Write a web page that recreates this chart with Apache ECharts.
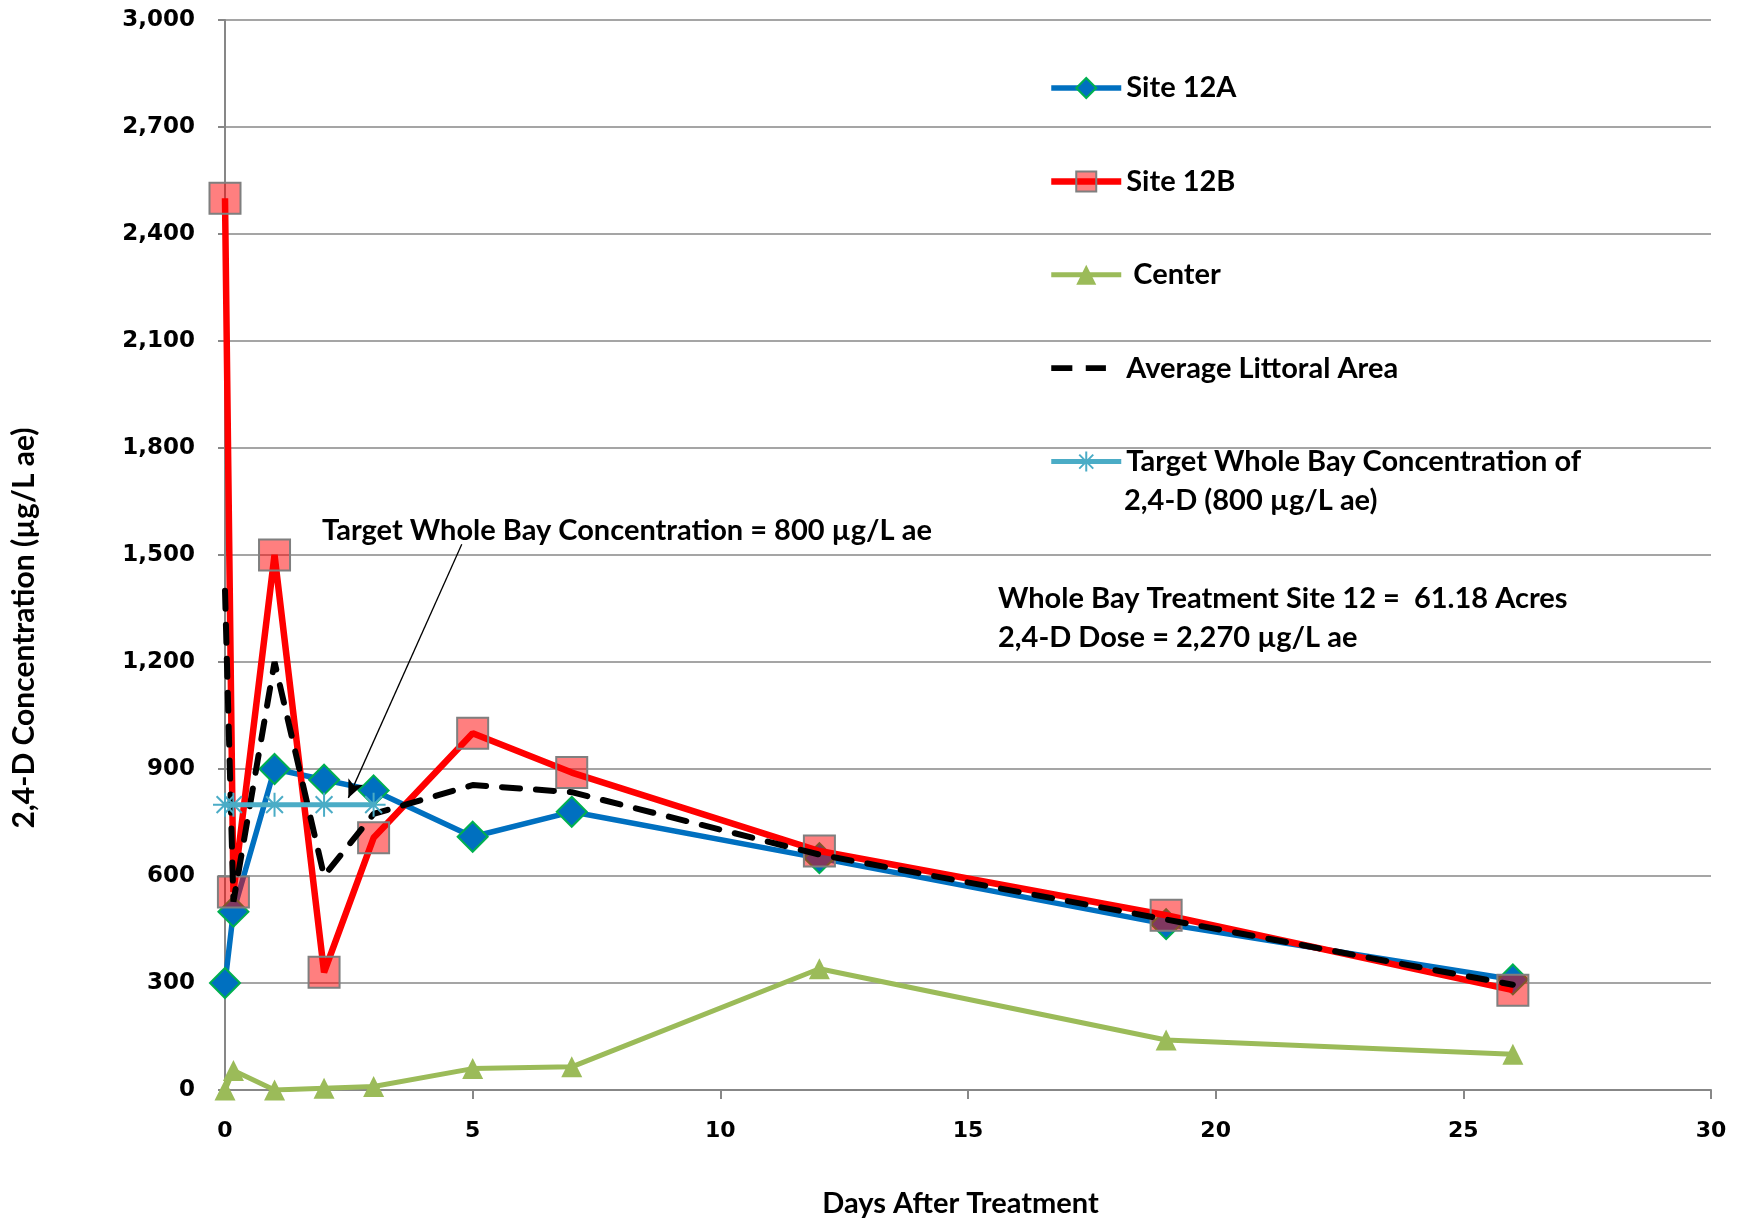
<!DOCTYPE html>
<html>
<head>
<meta charset="utf-8">
<script src="https://cdn.jsdelivr.net/npm/echarts@6/dist/echarts.min.js"></script>
<style>
  html, body { margin: 0; padding: 0; background: #fff; }
  #chart { width: 1744px; height: 1223px; }
</style>
</head>
<body>
<div id="chart"></div>
<script>
// days after treatment for each sample
const days = [0, 0.17, 1, 2, 3, 5, 7, 12, 19, 26]
const site12A = [300, 500, 900, 870, 840, 710, 780, 650, 465, 310]
const site12B = [2500, 555, 1500, 330, 707, 1000, 890, 670, 490, 280]
const center = [0, 55, 0, 5, 10, 60, 65, 340, 140, 100]
const avgLittoral = [1400, 528, 1200, 600, 774, 855, 835, 660, 478, 295]
const targetDays = [0, 0.17, 1, 2, 3]
const targetConc = [800, 800, 800, 800, 800]
const yTicks = [0, 300, 600, 900, 1200, 1500, 1800, 2100, 2400, 2700, 3000]
const xTicks = [0, 5, 10, 15, 20, 25, 30]

const seriesNames = ['Site 12A', 'Site 12B', 'Center', 'Average Littoral Area',
  'Target Whole Bay Concentration of 2,4-D (800 µg/L ae)']

const txtFont = 'Lato, "Open Sans", sans-serif'
const numFont = '"DejaVu Sans", sans-serif'

// legend icon for the dashed series: two short dashes (corner dots keep the box size)
const dashIcon = 'path://M0,0h0.1v0.1h-0.1zM69.9,24.9h0.1v0.1h-0.1z' +
  'M-3,9.5h22v6h-22zM33,9.5h21v6h-21z'

function pairs (xs, ys) {
  return xs.map((x, i) => [x, ys[i]])
}

const chart = echarts.init(document.getElementById('chart'))
const option = {
  animation: false,
  backgroundColor: '#fff',
  grid: { left: 225, right: 33, top: 20, bottom: 132 },
  xAxis: {
    type: 'value',
    min: xTicks[0],
    max: xTicks[xTicks.length - 1],
    interval: 5,
    name: 'Days After Treatment',
    nameLocation: 'middle',
    nameGap: 99,
    nameTextStyle: { fontFamily: txtFont, fontWeight: 'bold', fontSize: 29, color: '#000', padding: [0, 15, 0, 0] },
    splitLine: { show: false },
    axisLine: { lineStyle: { color: '#878787', width: 2 } },
    axisTick: { show: true, length: 9, lineStyle: { color: '#878787', width: 2 } },
    axisLabel: { margin: 30, fontFamily: numFont, fontWeight: 'bold', fontSize: 22, color: '#000' }
  },
  yAxis: {
    type: 'value',
    min: yTicks[0],
    max: yTicks[yTicks.length - 1],
    interval: 300,
    axisLine: { show: true, lineStyle: { color: '#878787', width: 2 } },
    axisTick: { show: true, length: 7, lineStyle: { color: '#878787', width: 2 } },
    splitLine: { show: true, lineStyle: { color: '#878787', width: 1.5 } },
    axisLabel: {
      margin: 30,
      fontFamily: numFont,
      fontWeight: 'bold',
      fontSize: 23,
      color: '#000',
      formatter: v => v.toLocaleString('en-US')
    }
  },
  legend: {
    orient: 'vertical',
    left: 1048,
    top: 71,
    padding: 0,
    itemWidth: 70,
    itemHeight: 25,
    itemGap: 59.4,
    lineStyle: { width: 'inherit' },
    data: seriesNames.map(n => n === 'Average Littoral Area' ? { name: n, icon: dashIcon } : { name: n }),
    formatter: name => {
      if (name === 'Center') return ' Center'
      if (name.indexOf('Target') === 0) return 'Target Whole Bay Concentration of'
      return name
    },
    textStyle: { fontFamily: txtFont, fontWeight: 'bold', fontSize: 29, lineHeight: 34, color: '#000' }
  },
  graphic: [
    {
      type: 'text', x: 24.5, y: 628, rotation: Math.PI / 2,
      style: { text: '2,4-D Concentration (µg/L ae)', font: 'bold 30px ' + txtFont, fill: '#000', align: 'center', verticalAlign: 'middle' }
    },
    {
      type: 'text', x: 1124, y: 500.5,
      style: { text: '2,4-D (800 µg/L ae)', font: 'bold 29px ' + txtFont, fill: '#000', verticalAlign: 'middle' }
    },
    {
      type: 'text', x: 322, y: 530.5,
      style: { text: 'Target Whole Bay Concentration = 800 µg/L ae', font: 'bold 29px ' + txtFont, fill: '#000', verticalAlign: 'middle' }
    },
    {
      type: 'text', x: 998, y: 598.4,
      style: { text: 'Whole Bay Treatment Site 12 =  61.18 Acres', font: 'bold 29px ' + txtFont, fill: '#000', verticalAlign: 'middle' }
    },
    {
      type: 'text', x: 998, y: 637.3,
      style: { text: '2,4-D Dose = 2,270 µg/L ae', font: 'bold 29px ' + txtFont, fill: '#000', verticalAlign: 'middle' }
    }
  ],
  series: [
    {
      name: seriesNames[0],
      type: 'line',
      data: pairs(days, site12A),
      symbol: 'diamond',
      symbolSize: 30,
      lineStyle: { color: '#0070C0', width: 5.5 },
      itemStyle: { color: '#0070C0', borderColor: '#00B050', borderWidth: 2 },
      z: 2
    },
    {
      name: seriesNames[1],
      type: 'line',
      data: pairs(days, site12B),
      symbol: 'rect',
      symbolSize: 31,
      lineStyle: { color: '#FF0000', width: 6.5 },
      itemStyle: { color: 'rgba(255,0,0,0.5)', borderColor: '#7F7F7F', borderWidth: 2 },
      z: 3
    },
    {
      name: seriesNames[2],
      type: 'line',
      data: pairs(days, center),
      symbol: 'triangle',
      symbolSize: 21,
      lineStyle: { color: '#9BBB59', width: 5 },
      itemStyle: { color: '#9BBB59' },
      z: 4
    },
    {
      name: seriesNames[3],
      type: 'line',
      data: pairs(days, avgLittoral),
      symbol: 'none',
      lineStyle: { color: '#000', width: 6, type: [18, 16], cap: 'round' },
      itemStyle: { color: '#000' },
      z: 5
    },
    {
      name: seriesNames[4],
      type: 'line',
      data: pairs(targetDays, targetConc),
      symbol: 'path://M0,10L20,10M10,0L10,20M3,3L17,17M17,3L3,17',
      symbolSize: 24,
      lineStyle: { color: '#4BACC6', width: 5 },
      itemStyle: { color: 'none', borderColor: '#4BACC6', borderWidth: 2 },
      z: 6,
      markLine: {
        silent: true,
        symbol: ['none', 'arrow'],
        symbolSize: [12, 18],
        label: { show: false },
        lineStyle: { color: '#000', width: 1.3, type: 'solid' },
        data: [[{ coord: [4.78, 1530] }, { coord: [2.49, 819] }]]
      }
    }
  ]
}
chart.setOption(option)
window.addEventListener('resize', () => {
  chart.resize()
})
</script>
</body>
</html>
